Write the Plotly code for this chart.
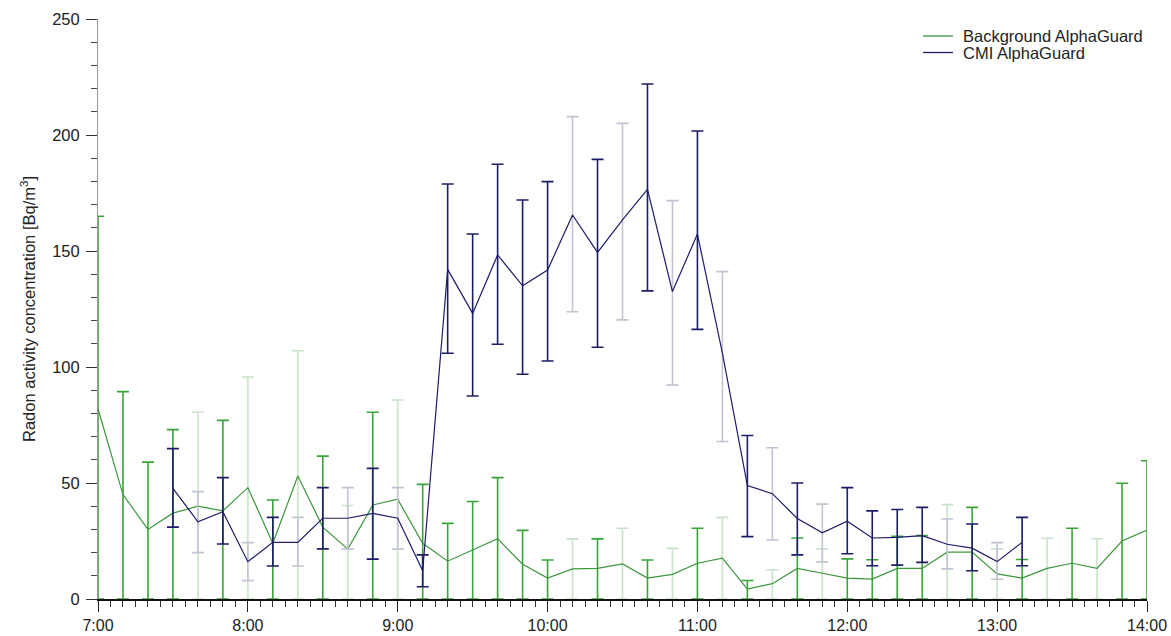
import plotly.graph_objects as go

# ---------------- data ----------------
times = ["7:00", "7:10", "7:20", "7:30", "7:40", "7:50",
         "8:00", "8:10", "8:20", "8:30", "8:40", "8:50",
         "9:00", "9:10", "9:20", "9:30", "9:40", "9:50",
         "10:00", "10:10", "10:20", "10:30", "10:40", "10:50",
         "11:00", "11:10", "11:20", "11:30", "11:40", "11:50",
         "12:00", "12:10", "12:20", "12:30", "12:40", "12:50",
         "13:00", "13:10", "13:20", "13:30", "13:40", "13:50",
         "14:00"]

background_value = [82, 45, 30, 37, 40, 38,
                    48, 24, 53, 31, 21.5, 40.5,
                    43, 24, 16.3, 21, 26, 15,
                    9, 13, 13.2, 15.1, 9, 10.6,
                    15.4, 17.6, 4.3, 6.6, 13.2, 11.1,
                    9, 8.6, 13.2, 13.2, 20.2, 20.2,
                    10.8, 9, 13.2, 15.4, 13.2, 25,
                    29.7]
background_upper = [165, 89.4, 59, 73, 80.5, 77,
                    95.7, 42.7, 107, 61.6, 40.3, 80.5,
                    85.8, 49.4, 32.6, 42, 52.3, 29.6,
                    16.8, 25.9, 25.9, 30.5, 16.8, 21.8,
                    30.5, 35.2, 8, 12.6, 26.3, 21.6,
                    17.3, 16.9, 27, 27.3, 40.7, 39.5,
                    21.6, 17, 26.2, 30.5, 26, 49.9,
                    59.6]
background_lower = [0] * len(times)

cmi_times = times[3:38]
cmi_value = [47.7, 33.3, 37.6,
             16.1, 24.4, 24.4, 34.8, 34.8, 36.9,
             34.8, 12.2, 142.1, 123.1, 148.3, 135,
             141.8, 165.5, 149.4, 163.4, 176.6, 132.5,
             157.3, 106, 48.9, 45.4, 34.7, 28.5,
             33.5, 26.3, 26.6, 27.3, 23.6, 21.9,
             16.1, 24.4]
cmi_lower = [31, 20, 23.7,
             7.9, 14.2, 14.2, 21.6, 21.5, 17.2,
             21.5, 5.3, 105.9, 87.5, 109.8, 96.9,
             102.6, 123.8, 108.5, 120.3, 132.8, 92.2,
             116.2, 67.9, 26.9, 25.4, 19, 16,
             19.5, 14.3, 14.6, 15.8, 13, 12.2,
             8.5, 14.3]
cmi_upper = [64.8, 46.3, 52.3,
             24.3, 35.2, 35.2, 48, 48, 56.3,
             48, 19, 178.9, 157.3, 187.4, 172,
             179.9, 207.9, 189.5, 205, 222, 171.7,
             201.7, 141.1, 70.5, 65.2, 50, 40.9,
             48, 38, 38.6, 39.5, 34.5, 32.3,
             24.3, 35.2]

tick_labels = ["7:00", "8:00", "9:00", "10:00", "11:00", "12:00", "13:00", "14:00"]
series_names = ["Background AlphaGuard", "CMI AlphaGuard"]

# --------------- style ----------------
# error bars drawn lighter in the original at these times
light_times = {"7:40", "8:00", "8:20", "8:40", "9:00", "10:10", "10:30", "10:50",
               "11:10", "11:30", "11:50", "12:40", "13:00", "13:20", "13:40"}

GREEN = "rgb(55,165,55)"
GREEN_LINE = "rgb(60,150,60)"
GREEN_LIGHT = "rgb(200,228,200)"
NAVY = "rgb(28,28,105)"
NAVY_LIGHT = "rgb(195,195,212)"
FONT = "Arial, 'Liberation Sans', sans-serif"

W, H = 1171, 636
ML, MR, MT, MB = 98, 24, 19, 37
PW, PH = W - ML - MR, H - MT - MB


def to_hours(t):
    h, m = t.split(":")
    return int(h) + int(m) / 60.0


def add_series(fig, name, tlist, vals, lows, ups, line_col, bar_col, bar_light):
    x = [to_hours(t) for t in tlist]
    for light in (True, False):
        idx = [i for i, t in enumerate(tlist) if (t in light_times) == light]
        fig.add_trace(go.Scatter(
            x=[x[i] for i in idx],
            y=[vals[i] for i in idx],
            mode="markers",
            marker=dict(size=0.1, color="rgba(0,0,0,0)"),
            error_y=dict(type="data", symmetric=False,
                         array=[ups[i] - vals[i] for i in idx],
                         arrayminus=[vals[i] - lows[i] for i in idx],
                         color=bar_light if light else bar_col,
                         thickness=1.6, width=6),
            showlegend=False, hoverinfo="skip", cliponaxis=False,
        ))
    fig.add_trace(go.Scatter(
        x=x, y=vals, mode="lines", name=name,
        line=dict(color=line_col, width=1.2),
        showlegend=False, cliponaxis=False,
    ))


fig = go.Figure()
add_series(fig, series_names[0], times, background_value,
           background_lower, background_upper, GREEN_LINE, GREEN, GREEN_LIGHT)
add_series(fig, series_names[1], cmi_times, cmi_value,
           cmi_lower, cmi_upper, NAVY, NAVY, NAVY_LIGHT)

# legend (drawn in paper coordinates, compact line spacing as in the original)
legend_cols = [GREEN_LINE, NAVY]
for k, (nm, col) in enumerate(zip(series_names, legend_cols)):
    py = 36 + k * 16.5
    yp = (H - MB - py) / PH
    fig.add_shape(type="line", xref="paper", yref="paper",
                  x0=(923 - ML) / PW, x1=(953 - ML) / PW, y0=yp, y1=yp,
                  line=dict(color=col, width=1.3))
    fig.add_annotation(text=nm, xref="paper", yref="paper",
                       x=(961 - ML) / PW, y=yp, xanchor="left", yanchor="middle",
                       showarrow=False,
                       font=dict(size=16.5, family=FONT, color="#222"))

fig.update_layout(
    width=W, height=H,
    margin=dict(l=ML, r=MR, t=MT, b=MB),
    paper_bgcolor="white", plot_bgcolor="white",
    font=dict(family=FONT, color="#222", size=15),
    showlegend=False,
    xaxis=dict(
        range=[to_hours("7:00"), to_hours("14:00")],
        tickvals=[to_hours(t) for t in tick_labels], ticktext=tick_labels,
        showgrid=False, zeroline=False, automargin=False,
        showline=True, linecolor="#111", linewidth=2,
        ticks="outside", ticklen=11, tickwidth=1.3, tickcolor="#222",
        minor=dict(dtick=1 / 12, tick0=7, ticks="outside", ticklen=6,
                   tickwidth=1, tickcolor="#333", showgrid=False),
        tickfont=dict(size=16, family=FONT, color="#222"),
    ),
    yaxis=dict(
        range=[0, 250], dtick=50,
        showgrid=False, zeroline=False, automargin=False,
        showline=True, linecolor="#9a9a9a", linewidth=1,
        ticks="outside", ticklen=11, tickwidth=1.3, tickcolor="#333",
        ticklabelstandoff=3,
        minor=dict(dtick=10, ticks="outside", ticklen=6, tickwidth=1,
                   tickcolor="#444", showgrid=False),
        tickfont=dict(size=16.5, family=FONT, color="#222"),
        title=dict(text="Radon activity concentration [Bq/m<sup>3</sup>]",
                   font=dict(size=16.5, family=FONT, color="#222"), standoff=12),
    ),
)

fig.write_html("out.html")
